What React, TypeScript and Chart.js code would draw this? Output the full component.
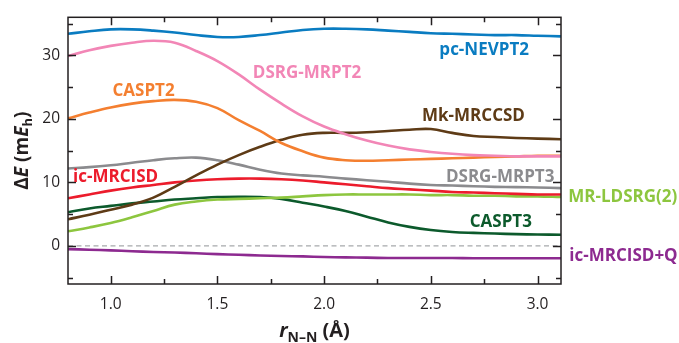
import React, { useEffect, useRef } from "react";
import { Chart, registerables } from "chart.js";

Chart.register(...registerables);

// r(N–N) in Å
const R_NN = [0.8, 0.9, 1.0, 1.1, 1.2, 1.3, 1.4, 1.5, 1.6, 1.7, 1.8, 1.9, 2.0, 2.1, 2.2, 2.3, 2.4, 2.5, 2.6, 2.7, 2.8, 2.9, 3.0, 3.11];

// ΔE in mEh
const PC_NEVPT2 = [33.4, 33.8, 34.1, 34.1, 33.9, 33.6, 33.2, 32.9, 32.9, 33.2, 33.6, 34.0, 34.2, 34.2, 34.1, 33.9, 33.7, 33.5, 33.4, 33.3, 33.2, 33.2, 33.1, 33.0];
const DSRG_MRPT2 = [29.9, 30.8, 31.5, 32.0, 32.3, 32.0, 30.7, 29.1, 27.0, 24.6, 22.4, 20.4, 18.8, 17.6, 16.6, 15.8, 15.2, 14.8, 14.5, 14.3, 14.2, 14.1, 14.1, 14.1];
const CASPT2 = [20.1, 21.0, 21.8, 22.4, 22.8, 23.0, 22.7, 21.7, 19.8, 18.1, 16.2, 14.9, 13.9, 13.5, 13.4, 13.5, 13.6, 13.7, 13.8, 13.9, 14.0, 14.1, 14.2, 14.2];
const MK_MRCCSD = [4.2, 4.9, 5.7, 6.5, 7.6, 9.3, 11.1, 12.8, 14.3, 15.6, 16.7, 17.5, 17.8, 17.8, 17.9, 18.1, 18.3, 18.4, 17.8, 17.3, 17.15, 17.0, 16.9, 16.8];
const IC_MRCISD = [7.5, 8.1, 8.7, 9.2, 9.6, 10.0, 10.3, 10.5, 10.6, 10.6, 10.5, 10.3, 10.0, 9.7, 9.4, 9.1, 8.9, 8.7, 8.5, 8.4, 8.3, 8.2, 8.1, 8.1];
const DSRG_MRPT3 = [12.2, 12.4, 12.7, 13.1, 13.5, 13.8, 13.9, 13.5, 12.8, 12.0, 11.4, 11.1, 10.9, 10.6, 10.35, 10.1, 9.8, 9.6, 9.5, 9.4, 9.3, 9.25, 9.2, 9.1];
const MR_LDSRG2 = [2.3, 2.9, 3.6, 4.5, 5.5, 6.5, 7.0, 7.3, 7.4, 7.5, 7.6, 7.8, 8.0, 8.1, 8.1, 8.1, 8.1, 8.0, 8.0, 7.9, 7.9, 7.8, 7.8, 7.7];
const CASPT3 = [5.3, 5.9, 6.3, 6.7, 7.0, 7.3, 7.5, 7.7, 7.75, 7.7, 7.4, 6.8, 6.2, 5.5, 4.6, 3.7, 3.0, 2.5, 2.2, 2.05, 1.95, 1.85, 1.8, 1.75];
const IC_MRCISD_Q = [-0.5, -0.6, -0.7, -0.85, -0.95, -1.05, -1.15, -1.3, -1.4, -1.5, -1.6, -1.65, -1.75, -1.8, -1.85, -1.9, -1.9, -1.9, -1.9, -1.95, -1.95, -1.95, -1.95, -1.95];

const ZERO_X = [0.8, 3.11];
const ZERO_Y = [0, 0];

const X_MIN = 0.8;
const X_MAX = 3.11;
const Y_MIN = -6;
const Y_MAX = 36;
const X_LABEL_TICKS = [1.0, 1.5, 2.0, 2.5, 3.0];
const X_MINOR_TICKS = [1.25, 1.75, 2.25, 2.75];
const Y_LABEL_TICKS = [0, 10, 20, 30];
const Y_MINOR_TICKS = [-5, 5, 15, 25, 35];

const SERIES_NAMES = ["pc-NEVPT2", "DSRG-MRPT2", "CASPT2", "Mk-MRCCSD", "ic-MRCISD", "DSRG-MRPT3", "MR-LDSRG(2)", "CASPT3", "ic-MRCISD+Q"];
const SERIES_VALUES = [PC_NEVPT2, DSRG_MRPT2, CASPT2, MK_MRCCSD, IC_MRCISD, DSRG_MRPT3, MR_LDSRG2, CASPT3, IC_MRCISD_Q];
const SERIES_COLORS = ["#0a7cc1", "#f286b6", "#f47f30", "#5e3b16", "#ec1c2c", "#8b8b8e", "#8dc63f", "#0c5a2c", "#8d2a90"];

// label anchors in data coordinates
const LABEL_X = [2.75, 1.92, 1.154, 2.70, 1.023, 2.825, 3.144, 2.828, 3.149];
const LABEL_Y = [30.9, 27.2, 24.4, 20.4, 10.9, 10.9, 7.7, 3.7, -1.6];
const LABEL_ALIGN = ["center", "center", "center", "center", "center", "center", "left", "center", "left"];

const INK = "#231f20";
const FONT = '"Open Sans", "Noto Sans", sans-serif';

type Run = { text: string; font: string; dy?: number };

function drawRuns(ctx: CanvasRenderingContext2D, runs: Run[], cx: number, baseline: number) {
  let total = 0;
  runs.forEach((r) => {
    ctx.font = r.font;
    total += ctx.measureText(r.text).width;
  });
  let x = cx - total / 2;
  ctx.textAlign = "left";
  ctx.textBaseline = "alphabetic";
  runs.forEach((r) => {
    ctx.font = r.font;
    ctx.fillText(r.text, x, baseline + (r.dy || 0));
    x += ctx.measureText(r.text).width;
  });
}

const decorPlugin = {
  id: "decor",
  afterDraw(chart: any) {
    const { ctx, chartArea: a, scales } = chart;
    const xs = scales.x;
    const ys = scales.y;
    ctx.save();
    ctx.strokeStyle = INK;
    ctx.lineWidth = 1.5;
    ctx.strokeRect(a.left, a.top, a.right - a.left, a.bottom - a.top);
    ctx.beginPath();
    const xt = (v: number, len: number) => {
      const p = Math.round(xs.getPixelForValue(v)) + 0.5;
      ctx.moveTo(p, a.bottom);
      ctx.lineTo(p, a.bottom - len);
      ctx.moveTo(p, a.top);
      ctx.lineTo(p, a.top + len);
    };
    const yt = (v: number, len: number) => {
      const p = Math.round(ys.getPixelForValue(v)) + 0.5;
      ctx.moveTo(a.left, p);
      ctx.lineTo(a.left + len, p);
      ctx.moveTo(a.right, p);
      ctx.lineTo(a.right - len, p);
    };
    X_LABEL_TICKS.forEach((v) => xt(v, 8));
    X_MINOR_TICKS.forEach((v) => xt(v, 5));
    Y_LABEL_TICKS.forEach((v) => yt(v, 8));
    Y_MINOR_TICKS.forEach((v) => yt(v, 5));
    ctx.stroke();

    // series labels
    ctx.textBaseline = "middle";
    ctx.font = `bold 17px ${FONT}`;
    SERIES_NAMES.forEach((name, i) => {
      ctx.fillStyle = SERIES_COLORS[i];
      ctx.textAlign = LABEL_ALIGN[i] as CanvasTextAlign;
      ctx.fillText(name, xs.getPixelForValue(LABEL_X[i]), ys.getPixelForValue(LABEL_Y[i]));
    });

    // axis titles
    ctx.fillStyle = INK;
    drawRuns(
      ctx,
      [
        { text: "r", font: `italic bold 20px ${FONT}` },
        { text: "N–N", font: `bold 14px ${FONT}`, dy: 5 },
        { text: " (Å)", font: `bold 20px ${FONT}` },
      ],
      (a.left + a.right) / 2,
      337
    );
    ctx.save();
    ctx.translate(28, (a.top + a.bottom) / 2);
    ctx.rotate(-Math.PI / 2);
    drawRuns(
      ctx,
      [
        { text: "Δ", font: `bold 19px ${FONT}` },
        { text: "E", font: `italic bold 19px ${FONT}` },
        { text: " (m", font: `bold 19px ${FONT}` },
        { text: "E", font: `italic bold 19px ${FONT}` },
        { text: "h", font: `bold 13px ${FONT}`, dy: 4 },
        { text: ")", font: `bold 19px ${FONT}` },
      ],
      0,
      0
    );
    ctx.restore();
    ctx.restore();
  },
};

export default function App() {
  const ref = useRef<HTMLCanvasElement | null>(null);
  useEffect(() => {
    if (!ref.current) return;
    const datasets: any[] = [
      {
        data: ZERO_X.map((x, i) => ({ x, y: ZERO_Y[i] })),
        borderColor: "#a7a9ac",
        borderWidth: 1.3,
        borderDash: [5, 3.5],
        pointRadius: 0,
        tension: 0,
      },
    ];
    SERIES_NAMES.forEach((name, i) => {
      datasets.push({
        label: name,
        data: R_NN.map((x, j) => ({ x, y: SERIES_VALUES[i][j] })),
        borderColor: SERIES_COLORS[i],
        borderWidth: 2.6,
        pointRadius: 0,
        tension: 0.4,
        fill: false,
      });
    });
    const chart = new Chart(ref.current, {
      type: "line",
      data: { datasets },
      options: {
        animation: false,
        responsive: false,
        devicePixelRatio: 1,
        layout: { padding: { top: 12, right: 118, left: 0, bottom: 0 } },
        plugins: { legend: { display: false }, tooltip: { enabled: false } },
        scales: {
          x: {
            type: "linear",
            min: X_MIN,
            max: X_MAX,
            grid: { display: false, drawTicks: false },
            border: { display: false },
            afterBuildTicks: (s: any) => {
              s.ticks = X_LABEL_TICKS.map((v) => ({ value: v }));
            },
            afterFit: (s: any) => {
              s.height = 59;
            },
            ticks: {
              autoSkip: false,
              maxRotation: 0,
              padding: 11,
              color: INK,
              font: { family: FONT, size: 15.5 },
              callback: (v: any) => Number(v).toFixed(1),
            },
          },
          y: {
            type: "linear",
            min: Y_MIN,
            max: Y_MAX,
            grid: { display: false, drawTicks: false },
            border: { display: false },
            afterBuildTicks: (s: any) => {
              s.ticks = Y_LABEL_TICKS.map((v) => ({ value: v }));
            },
            afterFit: (s: any) => {
              s.width = 68;
            },
            ticks: {
              autoSkip: false,
              padding: 8,
              color: INK,
              font: { family: FONT, size: 15.5 },
              callback: (v: any) => String(v),
            },
          },
        },
      },
      plugins: [decorPlugin],
    });
    return () => chart.destroy();
  }, []);
  return (
    <div style={{ position: "absolute", left: 0, top: 0, width: 679, height: 343, background: "#fff" }}>
      <canvas ref={ref} width={679} height={343} style={{ width: 679, height: 343, display: "block" }} />
    </div>
  );
}
